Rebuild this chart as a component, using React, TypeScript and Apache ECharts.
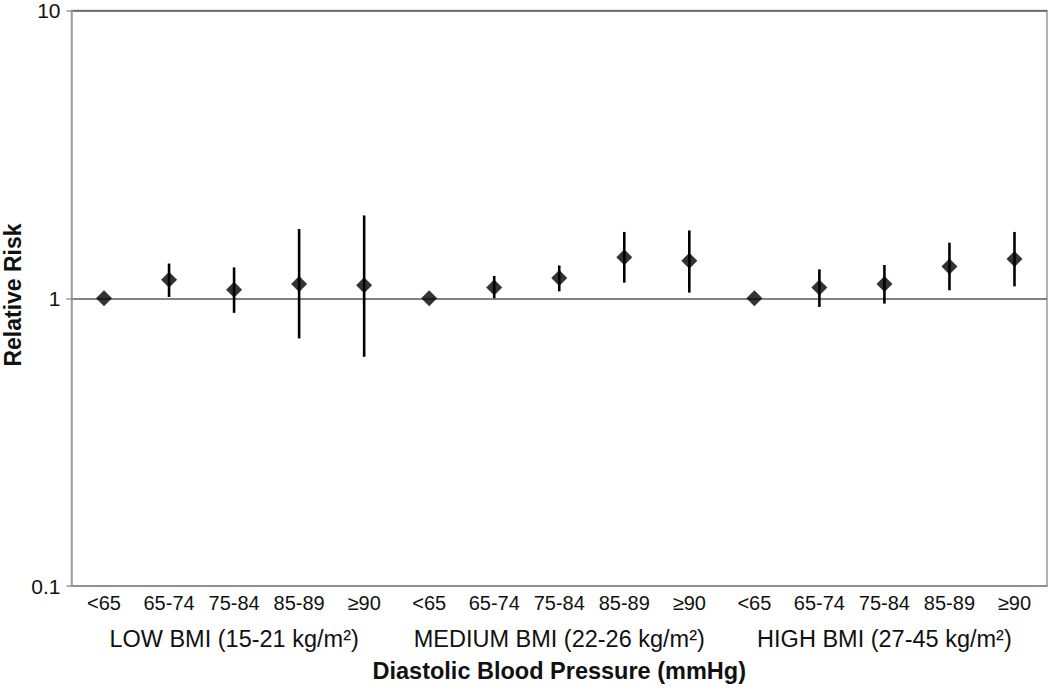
import React, { useEffect, useRef } from "react";
import * as echarts from "echarts";

const tickLabels = ["<65", "65-74", "75-84", "85-89", "≥90", "<65", "65-74", "75-84", "85-89", "≥90", "<65", "65-74", "75-84", "85-89", "≥90"];
const groupLabels = ["LOW BMI (15-21 kg/m²)", "MEDIUM BMI (22-26 kg/m²)", "HIGH BMI (27-45 kg/m²)"];
const groupMiddleIndex = [2, 7, 12];
const relativeRisk = [1.0, 1.16, 1.07, 1.12, 1.11, 1.0, 1.09, 1.176, 1.387, 1.35, 1.0, 1.09, 1.12, 1.29, 1.37];
const ciLower = [1.0, 1.01, 0.89, 0.725, 0.626, 1.0, 1.0, 1.057, 1.133, 1.046, 1.0, 0.933, 0.958, 1.066, 1.1];
const ciUpper = [1.0, 1.32, 1.28, 1.74, 1.94, 1.0, 1.195, 1.3, 1.7, 1.72, 1.0, 1.26, 1.305, 1.56, 1.7];
const yTickLabels = ["0.1", "1", "10"];

const FONT = "'Liberation Sans', Arial, Helvetica, sans-serif";

export default function App() {
  const ref = useRef<HTMLDivElement>(null);
  useEffect(() => {
    if (!ref.current) return;
    const chart = echarts.init(ref.current, undefined, { renderer: "svg" });
    const points = relativeRisk.map((v, i) => [i, v]);
    const bars = relativeRisk.map((_, i) => [i, ciLower[i], ciUpper[i]]);
    chart.setOption({
      animation: false,
      backgroundColor: "#fff",
      grid: {
        left: 71.5,
        top: 9,
        right: 3,
        bottom: 106,
        show: true,
        borderColor: "#9a9a9a",
        borderWidth: 1.5,
      },
      xAxis: {
        type: "category",
        data: tickLabels.map((_, i) => String(i)),
        boundaryGap: true,
        axisLine: { show: true, lineStyle: { color: "#9a9a9a", width: 1.5 } },
        axisTick: { show: false },
        splitLine: { show: false },
        axisLabel: {
          interval: 0,
          margin: 7,
          fontSize: 20,
          fontFamily: FONT,
          color: "#111",
          formatter: (_v: string, i: number) => tickLabels[i],
        },
      },
      yAxis: {
        type: "log",
        logBase: 10,
        min: 0.1,
        max: 10,
        axisLine: { show: true, lineStyle: { color: "#9a9a9a", width: 1.5 } },
        axisTick: { show: true, inside: false, length: 5, lineStyle: { color: "#9a9a9a", width: 1.5 } },
        minorTick: { show: false },
        splitLine: { show: true, lineStyle: { color: "#5a5a5a", width: 1.5 } },
        axisLabel: {
          margin: 11,
          fontSize: 21,
          fontFamily: FONT,
          color: "#111",
          formatter: (v: number) => {
            const l = Math.round(Math.log10(v));
            return yTickLabels[l + 1];
          },
        },
      },
      series: [
        {
          type: "custom",
          data: bars,
          encode: { x: 0, y: [1, 2] },
          renderItem: (params: any, api: any) => {
            const x = api.value(0);
            const lo = api.coord([x, api.value(1)]);
            const hi = api.coord([x, api.value(2)]);
            return {
              type: "line",
              shape: { x1: lo[0], y1: lo[1], x2: hi[0], y2: hi[1] },
              style: { stroke: "#000", lineWidth: 2.6 },
            };
          },
          z: 2,
        },
        {
          type: "scatter",
          data: points,
          symbol: "diamond",
          symbolSize: [16, 16],
          itemStyle: { color: "#000" },
          z: 3,
        },
      ],
    });
    const xs = groupMiddleIndex.map((i) => chart.convertToPixel({ xAxisIndex: 0 }, i) as number);
    const titleX = (xs[0] + xs[2]) / 2;
    chart.setOption({
      graphic: [
        ...groupLabels.map((t, i) => ({
          type: "text",
          x: xs[i],
          y: 639,
          style: {
            text: t,
            fontSize: 23.5,
            fontFamily: FONT,
            fill: "#111",
            textAlign: "center",
            textVerticalAlign: "middle",
          },
        })),
        {
          type: "text",
          x: titleX,
          y: 671,
          style: {
            text: "Diastolic Blood Pressure (mmHg)",
            fontSize: 23.5,
            fontWeight: "bold",
            fontFamily: FONT,
            fill: "#111",
            textAlign: "center",
            textVerticalAlign: "middle",
          },
        },
        {
          type: "text",
          x: 13,
          y: 295,
          rotation: Math.PI / 2,
          style: {
            text: "Relative Risk",
            fontSize: 23,
            fontWeight: "bold",
            fontFamily: FONT,
            fill: "#111",
            textAlign: "center",
            textVerticalAlign: "middle",
          },
        },
      ],
    });
    return () => chart.dispose();
  }, []);
  return <div ref={ref} style={{ position: "absolute", left: 0, top: 0, width: 1050, height: 692 }} />;
}
